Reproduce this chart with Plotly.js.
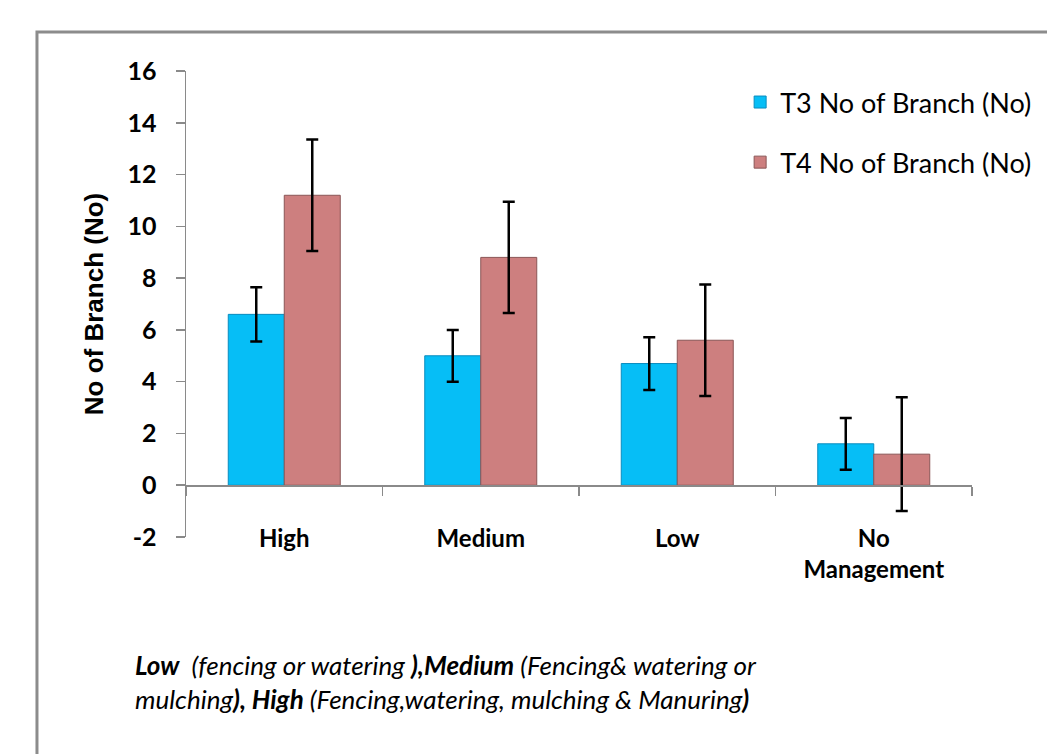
<!DOCTYPE html>
<html>
<head>
<meta charset="utf-8">
<script src="https://cdn.plot.ly/plotly-3.0.1.min.js"></script>
<style>
html,body{margin:0;padding:0;background:#fff;}
#chart{width:1047px;height:754px;}
</style>
</head>
<body>
<div id="chart"></div>
<script>
const categories = ["High", "Medium", "Low", "No<br>Management"];
const seriesNames = ["T3 No of Branch (No)", "T4 No of Branch (No)"];
const t3Values = [6.6, 5.0, 4.7, 1.6];
const t3Errors = [1.05, 1.0, 1.02, 1.0];
const t4Values = [11.2, 8.8, 5.6, 1.2];
const t4Errors = [2.15, 2.15, 2.15, 2.2];
const yTickValues = [-2, 0, 2, 4, 6, 8, 10, 12, 14, 16];
const yTickLabels = ["-2", "0", "2", "4", "6", "8", "10", "12", "14", "16"];
const yTitle = "No of Branch (No)";
const footnote = "<b><i>Low</i></b><i>  (fencing or watering </i><b><i>),Medium</i></b><i> (Fencing&amp; watering or</i><br><i>mulching</i><b><i>), High</i></b><i> (Fencing,watering, mulching &amp; Manuring</i><b><i>)</i></b>";

const axisGray = "#8a8a8a";
const baseFont = "Lato, 'Open Sans', sans-serif";

const traces = [
  {
    type: "bar", name: seriesNames[0], x: categories, y: t3Values,
    marker: {color: "#06BEF6", line: {color: "#0A8CBE", width: 1}},
    error_y: {type: "data", array: t3Errors, visible: true, color: "#000", thickness: 2.5, width: 6},
    legendgroup: "a"
  },
  {
    type: "bar", name: seriesNames[1], x: categories, y: t4Values,
    marker: {color: "#CD7F7F", line: {color: "#8A5656", width: 1}},
    error_y: {type: "data", array: t4Errors, visible: true, color: "#000", thickness: 2.5, width: 6},
    legendgroup: "b"
  }
];

const layout = {
  width: 1047, height: 754,
  margin: {l: 186, r: 75, t: 71, b: 217, autoexpand: false},
  paper_bgcolor: "#fff", plot_bgcolor: "#fff",
  font: {family: baseFont, color: "#000"},
  barmode: "group", bargap: 0.43, bargroupgap: 0,
  showlegend: true,
  legend: {
    x: 0.705, y: 0.985, xanchor: "left", yanchor: "top",
    font: {family: baseFont, size: 27, color: "#000"},
    traceorder: "grouped", tracegroupgap: 22,
    bgcolor: "rgba(0,0,0,0)"
  },
  xaxis: {
    type: "category",
    anchor: "free", position: 2/18,
    showline: true, linecolor: axisGray, linewidth: 1.5,
    ticks: "outside", tickson: "boundaries", ticklen: 9, tickcolor: axisGray, tickwidth: 1.5,
    tickfont: {family: baseFont, size: 24, color: "#000", weight: "bold"},
    ticklabelstandoff: 31,
    showgrid: false, zeroline: false, fixedrange: true
  },
  yaxis: {
    range: [-2, 16], tickvals: yTickValues, ticktext: yTickLabels,
    showline: true, linecolor: axisGray, linewidth: 1.5,
    ticks: "outside", ticklen: 9, tickcolor: axisGray, tickwidth: 1.5,
    tickfont: {family: baseFont, size: 25, color: "#000", weight: "bold"},
    ticklabelstandoff: 14,
    showgrid: false, zeroline: false, fixedrange: true,
    title: {text: yTitle + "\u00a0\u00a0\u00a0\u00a0", font: {family: "'Liberation Sans', Arial, sans-serif", size: 26, color: "#000", weight: "bold"}, standoff: 16}
  },
  shapes: [
    {type: "rect", xref: "paper", yref: "paper", x0: -0.1896, x1: 1.15, y0: -0.6, y1: 1.0837,
     line: {color: "#8c8c8c", width: 3}, fillcolor: "rgba(0,0,0,0)", layer: "below"}
  ],
  annotations: [
    {xref: "paper", yref: "paper", x: -0.0675, y: -0.235, xanchor: "left", yanchor: "top",
     align: "left", showarrow: false, text: footnote,
     font: {family: baseFont, size: 26, color: "#000"}}
  ]
};

Plotly.newPlot("chart", traces, layout, {displayModeBar: false, staticPlot: true});
</script>
</body>
</html>
